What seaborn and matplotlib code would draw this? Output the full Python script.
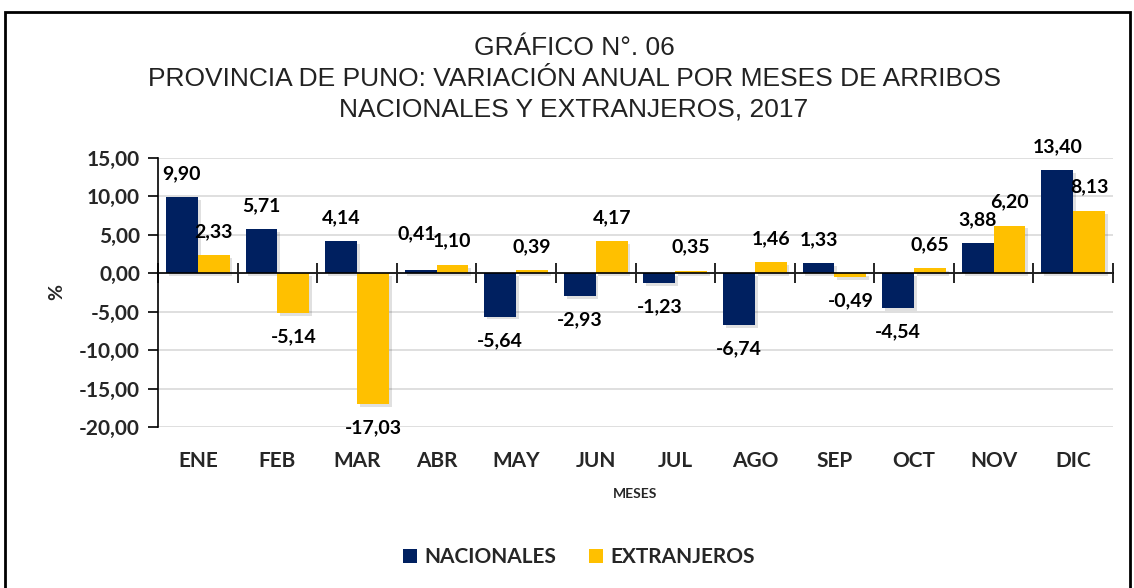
import matplotlib
matplotlib.use("Agg")
import matplotlib.pyplot as plt
import matplotlib.patheffects as pe
from matplotlib.patches import Rectangle, Patch
import seaborn as sns
import pandas as pd

meses = ["ENE", "FEB", "MAR", "ABR", "MAY", "JUN", "JUL", "AGO", "SEP", "OCT", "NOV", "DIC"]
nacionales = [9.90, 5.71, 4.14, 0.41, -5.64, -2.93, -1.23, -6.74, 1.33, -4.54, 3.88, 13.40]
extranjeros = [2.33, -5.14, -17.03, 1.10, 0.39, 4.17, 0.35, 1.46, -0.49, 0.65, 6.20, 8.13]
series = ["NACIONALES", "EXTRANJEROS"]
colores = ["#002060", "#FFC000"]
yticks = [-20, -15, -10, -5, 0, 5, 10, 15]
titulo = ["GRÁFICO N°. 06",
          "PROVINCIA DE PUNO: VARIACIÓN ANUAL POR MESES DE ARRIBOS",
          "NACIONALES Y EXTRANJEROS, 2017"]

df = pd.DataFrame({
    "mes": meses * 2,
    "valor": nacionales + extranjeros,
    "serie": [series[0]] * len(meses) + [series[1]] * len(meses),
})

sns.set_style("white")
plt.rcParams["font.family"] = ["Lato", "DejaVu Sans"]

fig = plt.figure(figsize=(11.34, 5.88), dpi=100)
ax = fig.add_axes([158 / 1134, 1 - 427 / 588, (1113 - 158) / 1134, (427 - 158) / 588])

sns.barplot(data=df, x="mes", y="valor", hue="serie", palette=colores,
            width=0.8, saturation=1, ax=ax, legend=False, zorder=3)

shadow = [pe.SimplePatchShadow(offset=(2, -2), alpha=0.12, shadow_rgbFace="black"), pe.Normal()]
for cont in ax.containers:
    for bar in cont:
        bar.set_path_effects(shadow)
        bar.set_edgecolor("none")

for s, (cont, vals) in enumerate(zip(ax.containers, [nacionales, extranjeros])):
    for i, (bar, v) in enumerate(zip(cont, vals)):
        x = bar.get_x() + bar.get_width() / 2
        dy = 11 if v >= 0 else -11
        dx = 0
        if s == 0 and meses[i] == "ABR":
            dy += 9
            dx = -3
        ax.annotate(f"{v:.2f}".replace(".", ","), xy=(x, v),
                    xytext=(dx, dy), textcoords="offset points",
                    ha="center", va="bottom" if v >= 0 else "top",
                    fontsize=14, fontweight="bold", color="black", zorder=5)

ax.set_ylim(-20, 15)
ax.set_xlim(-0.5, 11.5)
ax.set_yticks(yticks)
ax.set_yticklabels([f"{t:.2f}".replace(".", ",") for t in yticks],
                   fontsize=15, fontweight="bold")
ax.yaxis.grid(True, color="#d9d9d9", lw=1.2, zorder=0)
ax.tick_params(axis="y", direction="out", length=7, width=1.2, color="black", left=True, pad=6)

ax.spines["top"].set_visible(False)
ax.spines["right"].set_visible(False)
ax.spines["left"].set_color("black")
ax.spines["left"].set_linewidth(1.2)
ax.spines["bottom"].set_position(("data", 0))
ax.spines["bottom"].set_color("black")
ax.spines["bottom"].set_linewidth(1.2)
ax.spines["bottom"].set_zorder(4)

ax.set_xticks(range(len(meses)))
ax.set_xticklabels(meses, fontsize=15, fontweight="bold")
ax.set_xticks([i - 0.5 for i in range(len(meses) + 1)], minor=True)
ax.tick_params(axis="x", which="major", length=0, pad=128)
ax.tick_params(axis="x", which="minor", direction="inout", length=14, width=1.2, color="black", bottom=True)

ax.set_xlabel("MESES", fontsize=10, fontweight="bold", labelpad=12)
ax.set_ylabel("%", fontsize=14, fontweight="bold", labelpad=10)

for i, line in enumerate(titulo):
    fig.text(574 / 1134, 1 - (48 + i * 30.5) / 588, line, ha="center", va="center",
             fontsize=19, family=["Liberation Sans", "DejaVu Sans"], color="#222222")

handles = [Patch(facecolor=c, edgecolor="none") for c in colores]
fig.legend(handles, series, loc="center", bbox_to_anchor=(579 / 1134, 1 - 557 / 588),
           ncol=2, frameon=False, handlelength=0.65, handleheight=0.65, handletextpad=0.35,
           columnspacing=1.6, prop={"size": 15, "weight": "bold"})

fig.patches.append(Rectangle((5 / 1134, -0.05), (1130 - 5) / 1134, (1 - 12 / 588) + 0.05,
                             transform=fig.transFigure, fill=False, lw=2, ec="black"))

fig.savefig("out.png", dpi=100)
